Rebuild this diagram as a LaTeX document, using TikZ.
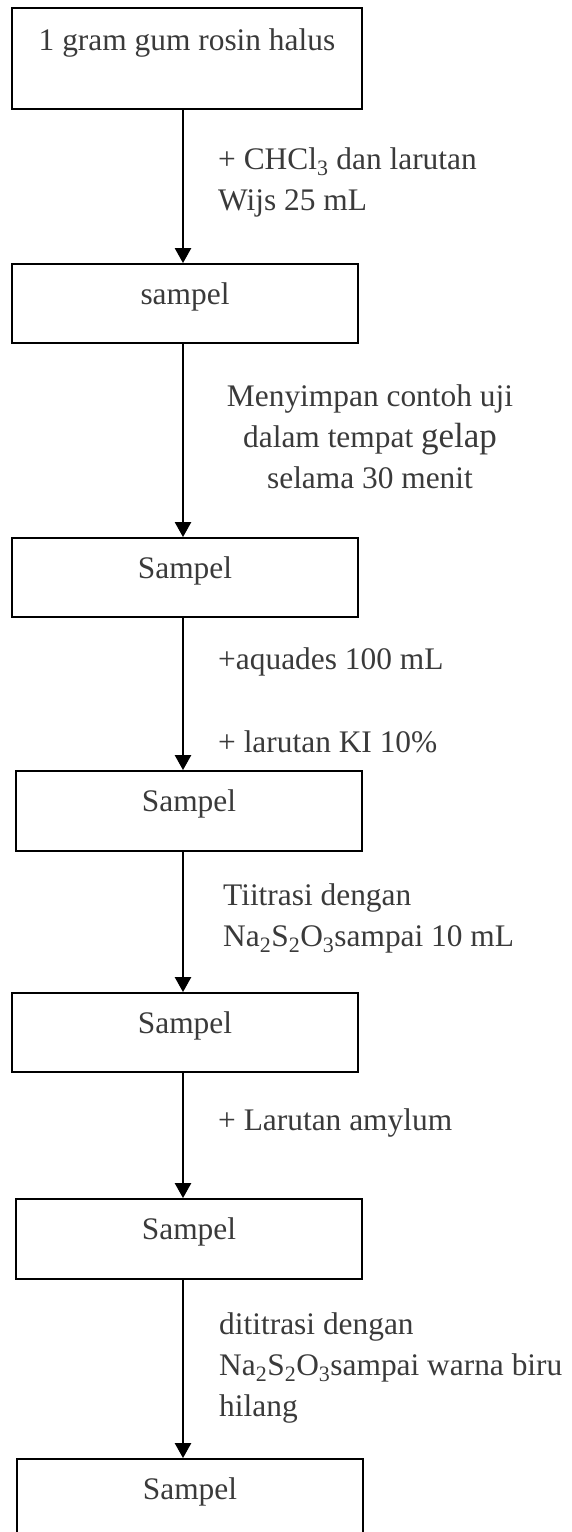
\documentclass[tikz,border=0pt]{standalone}
\usepackage{fontspec}
\setmainfont{Liberation Serif}
\usepackage{tikz}
\usetikzlibrary{arrows.meta,positioning,calc}
\definecolor{txtgray}{RGB}{58,58,58}
\tikzset{
  stepbox/.style={draw=black, line width=1.8pt, inner xsep=0pt, inner ysep=0pt,
                  minimum width=346pt, text height=40pt, text depth=39pt, text=txtgray},
  flowarr/.style={-{Triangle[length=15pt,width=16pt]}, line width=2.4pt},
  note/.style={inner sep=0pt, text=txtgray, align=left, anchor=west},
}

\begin{document}
\begin{tikzpicture}[x=1pt, y=-1pt, font=\fontsize{31.4pt}{41pt}\selectfont]
  \useasboundingbox (0,0) rectangle (571,1532);
  \clip (0,0) rectangle (571,1532);
  % boxes
  \node[stepbox, minimum width=350pt, text height=42pt, text depth=59pt] (rosin) at (187,58.5) {1 gram gum rosin halus};
  \node[stepbox] (smp1) at (185,303.5) {sampel};
  \node[stepbox] (smp2) at (185,577.5) {Sampel};
  \node[stepbox, text depth=40pt] (smp3) at (189,811) {Sampel};
  \node[stepbox] (smp4) at (185,1032.5) {Sampel};
  \node[stepbox, text depth=40pt] (smp5) at (189,1239) {Sampel};
  \node[stepbox, text depth=41pt] (smp6) at (190,1499.5) {Sampel};
  % arrows
  \coordinate (ax) at (183,0);
  \foreach \a/\b in {rosin/smp1, smp1/smp2, smp2/smp3, smp3/smp4, smp4/smp5, smp5/smp6}{
    \draw[flowarr] (\a.south -| ax) -- (\b.north -| ax);
  }
  % step labels
  \node[note] (add1) at (218,182.5) {+ CHCl\textsubscript{3} dan larutan\\Wijs 25 mL};
  \node[note, align=center, anchor=center] (store) at (370,437)
       {Menyimpan contoh uji\\dalam tempat {\fontsize{35pt}{41pt}\selectfont gelap}\\selama 30 menit};
  \node[note] (aqua) at (218,662) {+aquades 100 mL};
  \node[note] (ki) at (218,742) {+ larutan KI 10\%};
  \node[note] (titr1) at (223,918.5) {Tiitrasi dengan\\Na\textsubscript{2}S\textsubscript{2}O\textsubscript{3}sampai 10 mL};
  \node[note] (amyl) at (218,1123) {+ Larutan amylum};
  \node[note] (titr2) at (219,1368) {dititrasi dengan\\Na\textsubscript{2}S\textsubscript{2}O\textsubscript{3}sampai warna biru\\hilang};
\end{tikzpicture}
\end{document}
